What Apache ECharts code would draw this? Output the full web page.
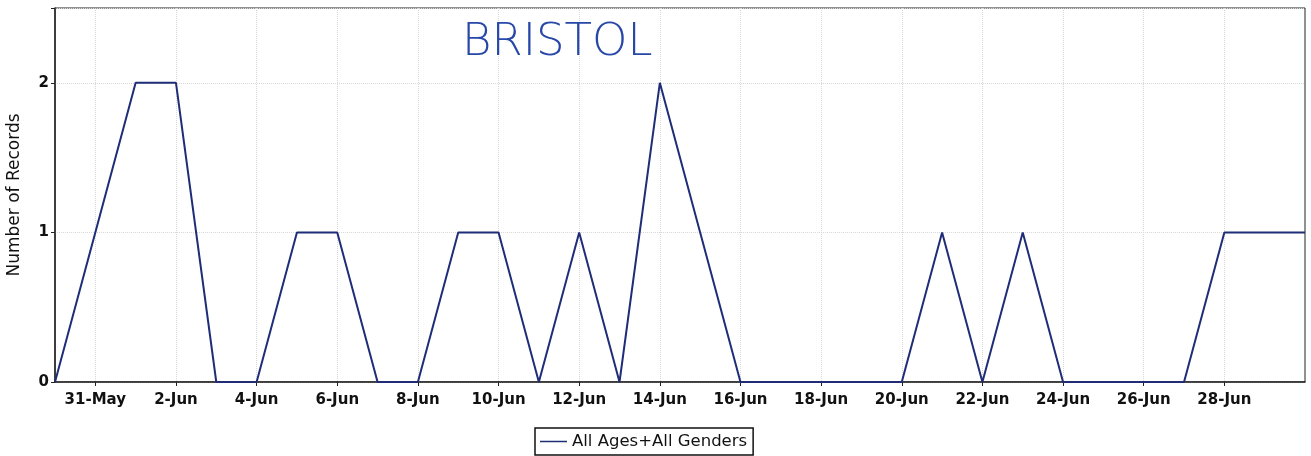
<!DOCTYPE html>
<html lang="en">
<head>
  <meta charset="UTF-8">
  <title>BRISTOL</title>
  <script src="https://cdn.jsdelivr.net/npm/echarts@6/dist/echarts.min.js"></script>
  <style>
    html, body { margin: 0; padding: 0; background: #fff; }
    #chart { width: 1311px; height: 456px; }
  </style>
</head>
<body>
  <div id="chart"></div>
  <script>
    // one point per day, 30-May to 30-Jun
    var days = ['30-May', '31-May', '1-Jun', '2-Jun', '3-Jun', '4-Jun', '5-Jun', '6-Jun',
      '7-Jun', '8-Jun', '9-Jun', '10-Jun', '11-Jun', '12-Jun', '13-Jun', '14-Jun',
      '15-Jun', '16-Jun', '17-Jun', '18-Jun', '19-Jun', '20-Jun', '21-Jun', '22-Jun',
      '23-Jun', '24-Jun', '25-Jun', '26-Jun', '27-Jun', '28-Jun', '29-Jun', '30-Jun'];
    var records = [0, 1, 2, 2, 0, 0, 1, 1,
      0, 0, 1, 1, 0, 1, 0, 2,
      1, 0, 0, 0, 0, 0, 1, 0,
      1, 0, 0, 0, 0, 1, 1, 1];
    var seriesName = 'All Ages+All Genders';
    var yTicks = [0, 1, 2];

    // labels every second day, the last day (plot edge) unlabelled
    var everyOther = function (i) { return i % 2 === 1 && i < days.length - 1; };
    var txt = { fontFamily: 'DejaVu Sans', fontSize: 15, fontWeight: 'bold', color: '#111' };

    var chart = echarts.init(document.getElementById('chart'));
    chart.setOption({
      animation: false,
      backgroundColor: '#fff',
      title: {
        text: 'BRISTOL',
        left: 457,
        top: 16,
        textStyle: {
          fontFamily: 'DejaVu Sans',
          fontWeight: 'lighter',
          fontSize: 45,
          color: '#2848a8'
        }
      },
      grid: {
        left: 55, right: 6, top: 8, bottom: 74,
        outerBoundsMode: 'none',
        show: true, borderColor: '#222', borderWidth: 1
      },
      legend: {
        data: [seriesName],
        bottom: 1,
        left: 535,
        icon: 'rect',
        itemWidth: 27,
        itemHeight: 1.5,
        itemGap: 6,
        padding: [5, 6, 5, 5],
        borderColor: '#111',
        borderWidth: 1.5,
        borderRadius: 0,
        textStyle: { fontFamily: 'DejaVu Sans', fontSize: 16.5, color: '#111' }
      },
      xAxis: {
        type: 'category',
        data: days,
        boundaryGap: false,
        axisLine: { lineStyle: { color: '#222', width: 1.5 } },
        axisTick: { show: true, interval: everyOther, length: 4, lineStyle: { color: '#222' } },
        axisLabel: Object.assign({ interval: everyOther, margin: 11 }, txt),
        splitLine: { show: true, interval: everyOther, lineStyle: { color: '#d8d8d8', type: 'dotted' } }
      },
      yAxis: {
        type: 'value',
        name: 'Number of Records',
        nameLocation: 'middle',
        nameGap: 32,
        nameTextStyle: { fontFamily: 'DejaVu Sans', fontSize: 17, color: '#111' },
        min: 0,
        max: 2.5,
        interval: 1,
        axisLine: { show: true, lineStyle: { color: '#222', width: 1.5 } },
        axisTick: { show: true, length: 4, lineStyle: { color: '#222' } },
        axisLabel: Object.assign({
          margin: 6,
          formatter: function (v) { return yTicks.indexOf(v) >= 0 ? String(v) : ''; }
        }, txt),
        splitLine: { show: true, lineStyle: { color: '#d8d8d8', type: 'dotted' } }
      },
      series: [{
        name: seriesName,
        type: 'line',
        data: records,
        symbol: 'none',
        lineStyle: { color: '#1f2d78', width: 2 },
        itemStyle: { color: '#1f2d78' }
      }]
    });
  </script>
</body>
</html>
